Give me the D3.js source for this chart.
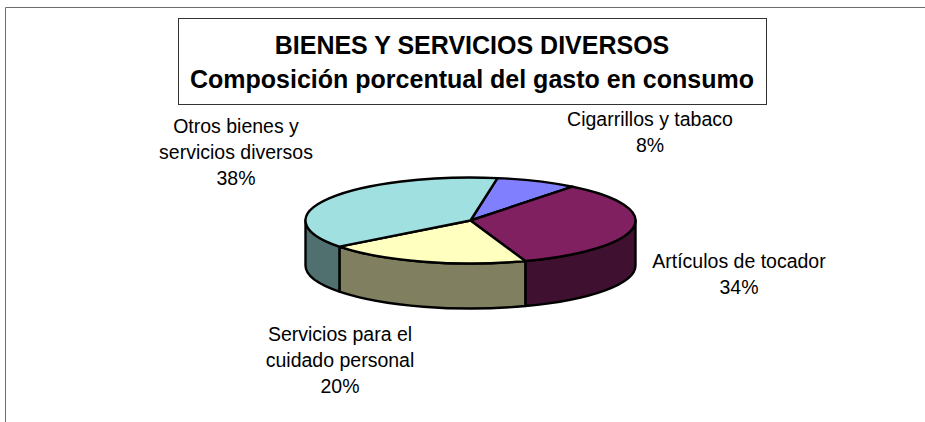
<!DOCTYPE html>
<html>
<head>
<meta charset="utf-8">
<script src="https://cdn.jsdelivr.net/npm/d3@7"></script>
<style>
	html, body { margin: 0; padding: 0; background: #fff; }
	svg { display: block; }
	text { font-family: "Liberation Sans", Arial, sans-serif; fill: #000; }
</style>
</head>
<body>
<svg id="chart" width="925" height="422"></svg>
<script>
const categories = ['Cigarrillos y tabaco', 'Artículos de tocador', 'Servicios para el cuidado personal', 'Otros bienes y servicios diversos'];
const values = [8, 34, 20, 38];
const topColors = ['#8080ff', '#802060', '#ffffc0', '#a0e0e0'];
const sideColors = ['#404080', '#401030', '#808060', '#507070'];
const labelLines = [
	['Cigarrillos y tabaco', '8%'],
	['Artículos de tocador', '34%'],
	['Servicios para el', 'cuidado personal', '20%'],
	['Otros bienes y', 'servicios diversos', '38%'],
];
const labelPos = [
	[650, 125.5],
	[739, 268],
	[340, 341],
	[236, 133],
];
const titleLines = ['BIENES Y SERVICIOS DIVERSOS', 'Composición porcentual del gasto en consumo'];

const cx = 470.5, cy = 220.5, rx = 165, ry = 43, depth = 45;
const startAngle = (9.4 * Math.PI) / 180;
const lineWidth = 2.4;

const svg = d3.select('#chart');

// frame, open on the right and bottom
svg.append('path')
	.attr('d', 'M5.5,422V7.5H925')
	.attr('fill', 'none')
	.attr('stroke', '#6e6e6e')
	.attr('stroke-width', 1);

svg.append('rect')
	.attr('x', 178.5).attr('y', 18.5)
	.attr('width', 588).attr('height', 86)
	.attr('fill', '#fff')
	.attr('stroke', '#333')
	.attr('stroke-width', 1);

svg.selectAll('.title')
	.data(titleLines)
	.join('text')
	.attr('class', 'title')
	.attr('x', 472)
	.attr('y', (d, i) => 54 + i * 33.5)
	.attr('text-anchor', 'middle')
	.attr('font-weight', 'bold')
	.attr('font-size', 25)
	.text((d) => d);

const pie = d3.pie()
	.sort(null)
	.startAngle(startAngle)
	.endAngle(startAngle + 2 * Math.PI);
const arcs = pie(values);

// angle is clockwise from the top, like d3.arc
const px = (a) => cx + rx * Math.sin(a);
const py = (a) => cy - ry * Math.cos(a);

// sides: only the front half of the rim shows
const rim = [];
arcs.forEach((d, i) => {
	[d.startAngle, d.startAngle - 2 * Math.PI].forEach((s) => {
		const e = s + (d.endAngle - d.startAngle);
		const a0 = Math.max(s, Math.PI / 2);
		const a1 = Math.min(e, (3 * Math.PI) / 2);
		if (a1 > a0) rim.push({ a0, a1, i });
	});
});

svg.append('g')
	.selectAll('path')
	.data(rim)
	.join('path')
	.attr('d', (d) =>
		`M${px(d.a0)},${py(d.a0)}` +
		`A${rx},${ry} 0 0 1 ${px(d.a1)},${py(d.a1)}` +
		`V${py(d.a1) + depth}` +
		`A${rx},${ry} 0 0 0 ${px(d.a0)},${py(d.a0) + depth}Z`
	)
	.attr('fill', (d) => sideColors[d.i])
	.attr('stroke', '#000')
	.attr('stroke-width', lineWidth)
	.attr('stroke-linejoin', 'round');

const arc = d3.arc().innerRadius(0).outerRadius(rx);

svg.append('g')
	.attr('transform', `translate(${cx},${cy}) scale(1,${ry / rx})`)
	.selectAll('path')
	.data(arcs)
	.join('path')
	.attr('d', arc)
	.attr('fill', (d, i) => topColors[i])
	.attr('stroke', '#000')
	.attr('stroke-width', lineWidth)
	.attr('stroke-linejoin', 'round')
	.attr('vector-effect', 'non-scaling-stroke');

const labels = svg.append('g')
	.selectAll('text')
	.data(labelLines)
	.join('text')
	.attr('text-anchor', 'middle')
	.attr('font-size', 19.5)
	.attr('data-category', (d, i) => categories[i]);

labels.selectAll('tspan')
	.data((d, i) => d.map((line) => ({ line, pos: labelPos[i] })))
	.join('tspan')
	.attr('x', (d) => d.pos[0])
	.attr('y', (d, j) => d.pos[1] + j * 26)
	.text((d) => d.line);
</script>
</body>
</html>
